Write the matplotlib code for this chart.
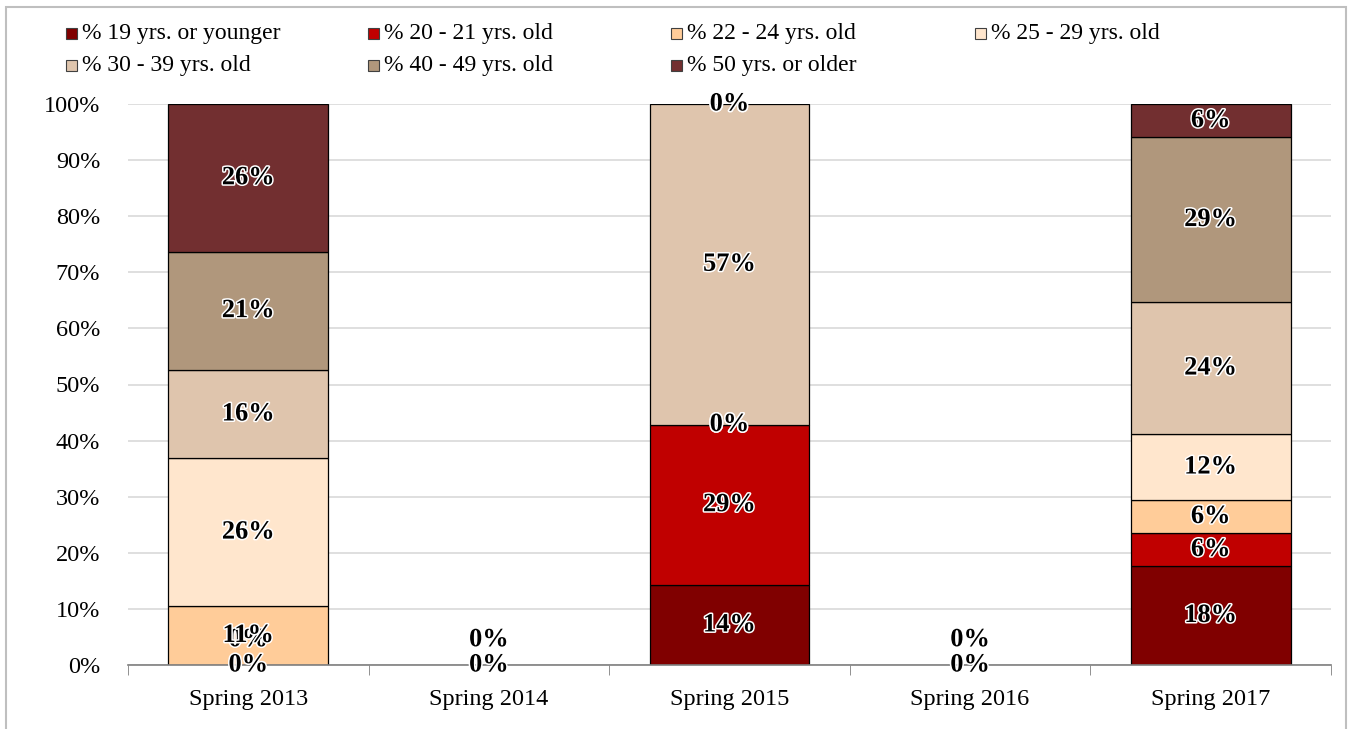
import numpy as np
import matplotlib
matplotlib.use("Agg")
import matplotlib.pyplot as plt
import matplotlib.patheffects as pe
from matplotlib.patches import Rectangle

plt.rcParams['font.family'] = ['Liberation Serif', 'DejaVu Serif']

# data
terms = ["Spring 2013", "Spring 2014", "Spring 2015", "Spring 2016", "Spring 2017"]
groups = ["% 19 yrs. or younger", "% 20 - 21 yrs. old", "% 22 - 24 yrs. old",
          "% 25 - 29 yrs. old", "% 30 - 39 yrs. old", "% 40 - 49 yrs. old",
          "% 50 yrs. or older"]
nan = np.nan
age_19 = [0.0, 0.0, 14.29, 0.0, 17.65]
age_20_21 = [0.0, 0.0, 28.57, 0.0, 5.88]
age_22_24 = [10.53, nan, 0.0, nan, 5.88]
age_25_29 = [26.32, nan, 0.0, nan, 11.76]
age_30_39 = [15.79, nan, 57.14, nan, 23.53]
age_40_49 = [21.05, nan, 0.0, nan, 29.41]
age_50 = [26.32, nan, 0.0, nan, 5.88]

colours = ["#800000", "#C00000", "#FFCC99", "#FFE6CD", "#DFC5AD", "#B0977C", "#722F30"]

series = [age_19, age_20_21, age_22_24, age_25_29, age_30_39, age_40_49, age_50]

fig = plt.figure(figsize=(13.55, 7.29), dpi=100)
ax = fig.add_axes([128/1355, 1-665/729, (1331-128)/1355, (665-104)/729])

# outer border like the original export
fig.patches.append(Rectangle((6/1355, -0.05), (1346-6)/1355, 1.05-7/729,
                             transform=fig.transFigure, fill=False,
                             edgecolor="#bfbfbf", linewidth=1.5))

x = np.arange(len(terms))
bottom = np.zeros(len(terms))
glow = [pe.withStroke(linewidth=2.2, foreground="white")]
used_zero = [False] * len(terms)
for vals, col, name in zip(series, colours, groups):
    v = np.array(vals, dtype=float)
    h = np.nan_to_num(v)
    lw = np.where(h > 0, 0.9, 0.0)
    ax.bar(x, h, 0.665, bottom=bottom, color=col, edgecolor="black",
           linewidth=lw, zorder=3)
    for i in range(len(terms)):
        if np.isnan(v[i]):
            continue
        yc = bottom[i] + h[i] / 2
        if yc == 0:
            if used_zero[i]:
                yc = 4.5
            used_zero[i] = True
        ax.text(x[i], yc, "%d%%" % round(v[i]), ha="center", va="center",
                fontsize=19, fontweight="bold", color="black",
                path_effects=glow, zorder=5)
    bottom += h

ax.set_xlim(-0.5, len(terms) - 0.5)
ax.set_ylim(0, 100)
ax.set_yticks(np.arange(0, 101, 10))
ax.set_yticklabels(["%d%%" % t for t in range(0, 101, 10)], fontsize=17.5)
ax.set_xticks(x)
ax.set_xticklabels(terms, fontsize=17.5)
ax.tick_params(axis="y", length=0, pad=20)
ax.tick_params(axis="x", length=0, pad=17)
ax.set_xticks(np.arange(-0.5, len(terms)), minor=True)
ax.tick_params(axis="x", which="minor", length=7, color="#7f7f7f", direction="out")
ax.grid(axis="y", color="#d9d9d9", linewidth=1.2, zorder=0)
for s in ["top", "right", "left"]:
    ax.spines[s].set_visible(False)
ax.spines["bottom"].set_color("#7f7f7f")
ax.spines["bottom"].set_linewidth(1.2)
ax.spines["bottom"].set_zorder(4)

# legend, four columns laid out in rows
col_x = [66, 368, 671, 975]
row_y = [33, 65]
for i, (name, col) in enumerate(zip(groups, colours)):
    cx = col_x[i % 4]
    cy = row_y[i // 4]
    fig.patches.append(Rectangle((cx/1355, 1-(cy+5.5)/729), 11/1355, 11/729,
                                 transform=fig.transFigure, facecolor=col,
                                 edgecolor="#404040", linewidth=0.8))
    fig.text((cx+16)/1355, 1-cy/729, name, fontsize=17, va="center", ha="left")

fig.savefig("out.png", dpi=100)
